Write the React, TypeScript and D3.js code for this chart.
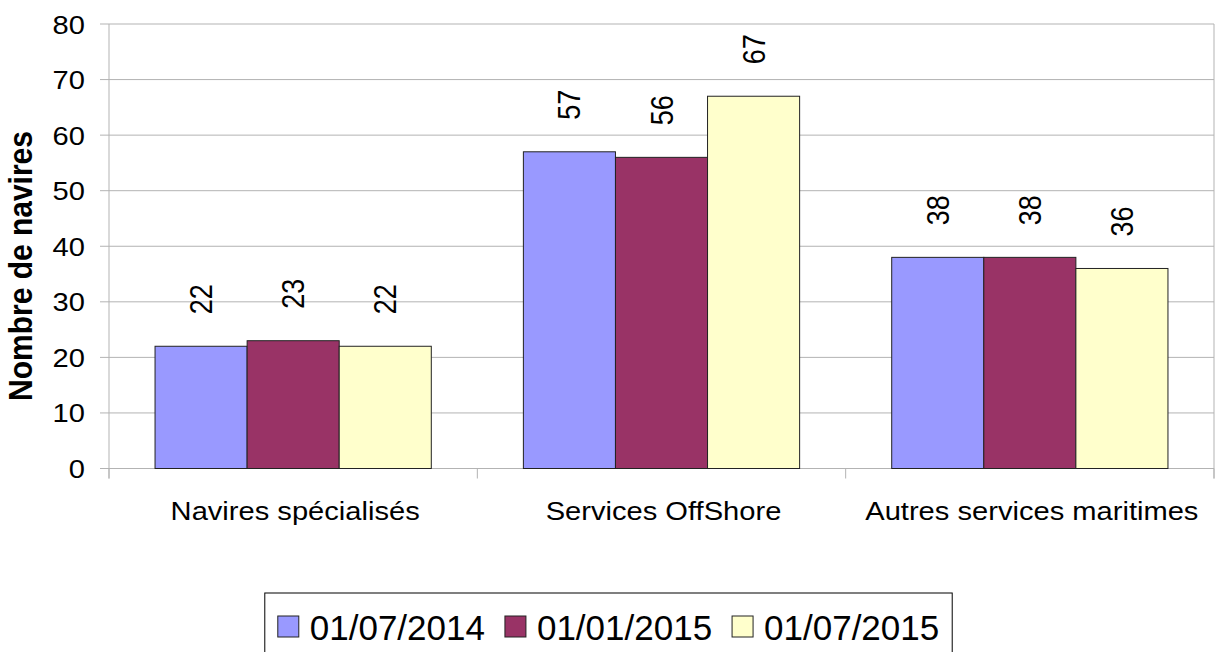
import React from 'react';
import * as d3 from 'd3';

const categories = ['Navires spécialisés', 'Services OffShore', 'Autres services maritimes'];
const seriesNames = ['01/07/2014', '01/01/2015', '01/07/2015'];
const values2014a = [22, 57, 38];
const values2015a = [23, 56, 38];
const values2015b = [22, 67, 36];
const yTicks = [0, 10, 20, 30, 40, 50, 60, 70, 80];
const colors = ['#9999FF', '#993366', '#FFFFCC'];

const W = 1217;
const H = 652;
const FONT = '"Liberation Sans", Arial, sans-serif';

const App: React.FC = () => {
  const seriesValues = [values2014a, values2015a, values2015b];

  const left = 109;
  const right = 1214;
  const top = 24;
  const bottom = 468.5;

  const y = d3.scaleLinear().domain([0, 80]).range([bottom, top]);
  const x0 = d3.scaleBand<string>().domain(categories).range([left, right]).padding(0);
  const x1 = d3
    .scaleBand<string>()
    .domain(seriesNames)
    .range([0, x0.bandwidth()])
    .paddingInner(0)
    .paddingOuter(0.5);

  const bounds = [left, ...categories.map(c => (x0(c) as number) + x0.bandwidth())];

  // legend layout
  const legFont = 35;
  const sw = 21;
  const textW = 5.004 * legFont;
  const itemW = sw + 11 + textW;
  const itemGap = 20;
  const legW = itemW * 3 + itemGap * 2 + 26;
  const legX = W / 2 - legW / 2;
  const legY = 593;

  return (
    <svg
      width={W}
      height={H}
      style={{ position: 'absolute', left: 0, top: 0, background: '#fff' }}
      fontFamily={FONT}
    >
      {/* gridlines */}
      {yTicks.map(t => (
        <line key={'g' + t} x1={left - 9} x2={right} y1={y(t)} y2={y(t)} stroke="#b3b3b3" strokeWidth={1} />
      ))}
      {/* axes */}
      <line x1={left} x2={left} y1={top} y2={bottom + 10} stroke="#b3b3b3" />
      <line x1={right} x2={right} y1={top} y2={bottom + 10} stroke="#b3b3b3" />
      {bounds.map((b, i) => (
        <line key={'xt' + i} x1={b} x2={b} y1={bottom} y2={bottom + 10} stroke="#b3b3b3" />
      ))}

      {/* y tick labels */}
      {yTicks.map(t => (
        <text
          key={'yl' + t}
          transform={`translate(85,${y(t) + 9.5}) scale(1.12,1)`}
          textAnchor="end"
          fontSize={26}
          fill="#000"
        >
          {t}
        </text>
      ))}

      {/* y title */}
      <text
        transform={`translate(32,266) scale(1.1,1) rotate(-90)`}
        textAnchor="middle"
        fontSize={30}
        fontWeight="bold"
        fill="#000"
      >
        Nombre de navires
      </text>

      {/* bars */}
      {categories.map((c, ci) => (
        <g key={c} transform={`translate(${x0(c)},0)`}>
          {seriesNames.map((s, si) => {
            const v = seriesValues[si][ci];
            const bx = x1(s) as number;
            const bw = x1.bandwidth();
            return (
              <g key={s}>
                <rect
                  x={bx}
                  y={y(v)}
                  width={bw}
                  height={bottom - y(v)}
                  fill={colors[si]}
                  stroke="#222"
                  strokeWidth={1}
                />
                <text
                  transform={`translate(${bx + bw / 2 + 11},${y(v) - 32}) scale(1.15,1) rotate(-90)`}
                  textAnchor="start"
                  fontSize={27}
                  fill="#000"
                >
                  {v}
                </text>
              </g>
            );
          })}
        </g>
      ))}

      {/* category labels */}
      {categories.map(c => (
        <text
          key={'cl' + c}
          transform={`translate(${(x0(c) as number) + x0.bandwidth() / 2 + 2},520) scale(1.12,1)`}
          textAnchor="middle"
          fontSize={26}
          fill="#000"
        >
          {c}
        </text>
      ))}

      {/* legend */}
      <rect x={legX} y={legY} width={legW} height={80} fill="#fff" stroke="#000" strokeWidth={1} />
      {seriesNames.map((s, i) => {
        const ix = legX + 13 + i * (itemW + itemGap);
        return (
          <g key={'lg' + s}>
            <rect x={ix} y={616} width={sw} height={sw} fill={colors[i]} stroke="#222" strokeWidth={1} />
            <text x={ix + sw + 11} y={640} fontSize={legFont} fill="#000">
              {s}
            </text>
          </g>
        );
      })}
    </svg>
  );
};

export default App;
